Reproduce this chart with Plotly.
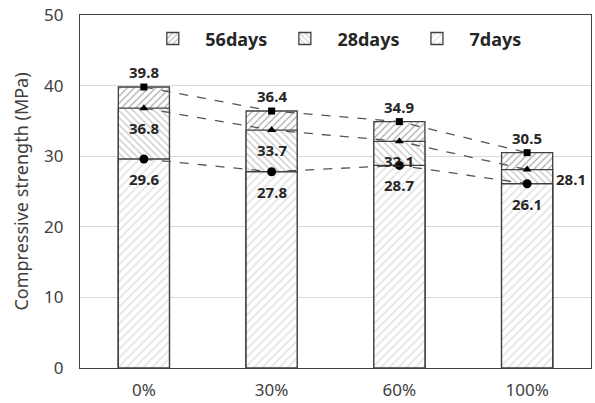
import plotly.graph_objects as go

categories = ["0%", "30%", "60%", "100%"]
days56 = [39.8, 36.4, 34.9, 30.5]
days28 = [36.8, 33.7, 32.1, 28.1]
days7 = [29.6, 27.8, 28.7, 26.1]

series = [
    dict(name="56days", vals=days56, shape="/", fg="#555555", size=5, sym="square", msize=7),
    dict(name="28days", vals=days28, shape="\\", fg="#8a8a8a", size=5, sym="triangle-up", msize=8),
    dict(name="7days", vals=days7, shape="/", fg="#c4c4c4", size=6, sym="circle", msize=9),
]

fig = go.Figure()
for s in series:
    fig.add_trace(go.Bar(
        x=categories, y=s["vals"], name=s["name"], width=0.4,
        marker=dict(color="white", line=dict(color="#404040", width=1.3),
                    pattern=dict(shape=s["shape"], fgcolor=s["fg"], bgcolor="white",
                                 size=s["size"], solidity=0.25)),
    ))
for s in series:
    fig.add_trace(go.Scatter(
        x=categories, y=s["vals"], mode="lines+markers", showlegend=False,
        line=dict(color="#555555", width=1.3, dash="dash"),
        marker=dict(symbol=s["sym"], size=s["msize"], color="black"),
    ))

lab_font = dict(family="Noto Sans", size=15, color="#262626", weight="bold")
for i, c in enumerate(categories):
    fig.add_annotation(x=c, y=days56[i], text=f"{days56[i]}", showarrow=False,
                       yshift=15, font=lab_font)
    if i == 3:
        fig.add_annotation(x=c, y=days28[i], text=f"{days28[i]}", showarrow=False,
                           xshift=44, yshift=-9, font=lab_font)
    else:
        fig.add_annotation(x=c, y=days28[i], text=f"{days28[i]}", showarrow=False,
                           yshift=-20, font=lab_font)
    fig.add_annotation(x=c, y=days7[i], text=f"{days7[i]}", showarrow=False,
                       yshift=-20, font=lab_font)

fig.update_layout(
    width=595, height=403, barmode="overlay",
    margin=dict(l=80, r=4, t=15, b=35),
    plot_bgcolor="white", paper_bgcolor="white",
    font=dict(family="Noto Sans", size=17, color="#404040"),
    legend=dict(orientation="h", x=0.118, y=0.985, xanchor="left", yanchor="top",
                itemwidth=55,
                font=dict(family="Noto Sans", size=18, color="#262626", weight="bold"),
                bgcolor="rgba(0,0,0,0)", traceorder="normal"),
    xaxis=dict(showline=True, mirror=True, linecolor="#404040", linewidth=1.3,
               ticks="", ticklabelstandoff=6, automargin=False,
               tickfont=dict(size=17, color="#404040")),
    yaxis=dict(range=[0, 50], dtick=10, showline=True, mirror=True, linecolor="#404040",
               linewidth=1.3, gridcolor="#d9d9d9", gridwidth=1, ticks="",
               ticklabelstandoff=12, zeroline=False, automargin=False,
               ticklabeloverflow="allow",
               title=dict(text="Compressive strength (MPa)", font=dict(size=18, color="#404040"),
                          standoff=10),
               tickfont=dict(size=17, color="#404040")),
)

fig.write_html("out.html", config={"displayModeBar": False},
               post_script="document.body.style.margin='0';")
